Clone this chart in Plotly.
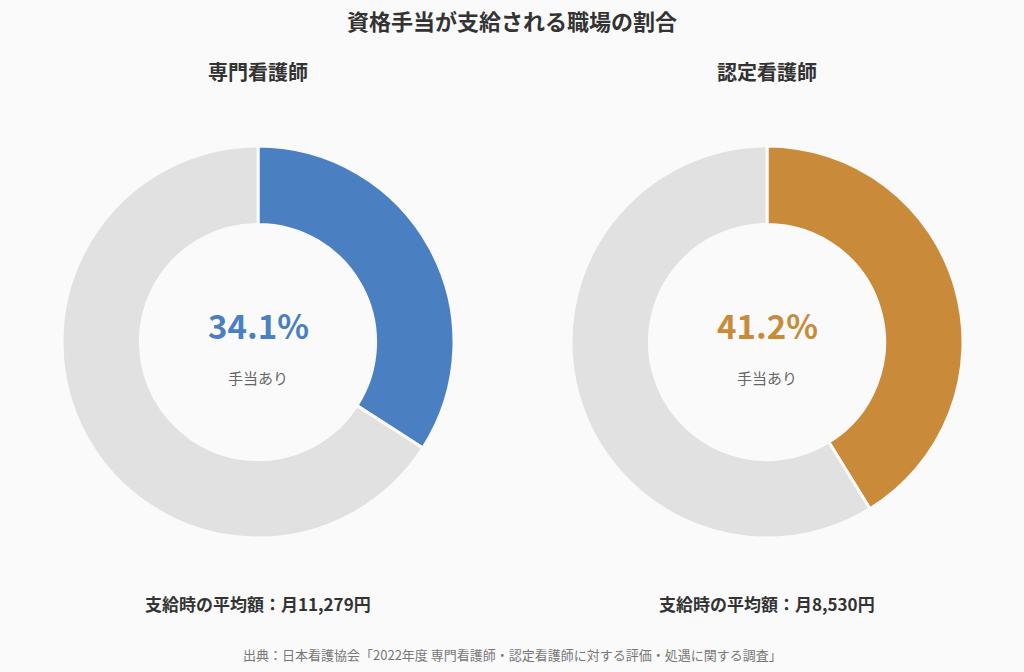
import plotly.graph_objects as go

groups = ["専門看護師", "認定看護師"]
labels = ["手当あり", "手当なし"]
with_allowance = [34.1, 41.2]
avg_amount = ["11,279", "8,530"]
colors = ["#4a7fc1", "#c98a3a"]
rest_color = "#e1e1e1"
title = "資格手当が支給される職場の割合"
source = "出典：日本看護協会「2022年度 専門看護師・認定看護師に対する評価・処遇に関する調査」"

W, H = 1024, 672
font = "Noto Sans CJK JP"
domains_x = [[62 / W, 454 / W], [571 / W, 963 / W]]
dom_y = [1 - 538 / H, 1 - 146 / H]
centers_x = [258 / W, 767 / W]

fig = go.Figure()
for i, g in enumerate(groups):
    v = with_allowance[i]
    fig.add_trace(go.Pie(
        labels=labels, values=[v, round(100 - v, 1)],
        hole=0.6, sort=False, direction="clockwise", rotation=0,
        marker=dict(colors=[colors[i], rest_color], line=dict(color="#fafafa", width=3)),
        textinfo="none", hoverinfo="label+percent", showlegend=False,
        domain=dict(x=domains_x[i], y=dom_y), name=g,
    ))


def note(text, x, ypx, size, color):
    return dict(text=text, x=x, y=1 - ypx / H, xref="paper", yref="paper",
                xanchor="center", yanchor="middle", showarrow=False,
                font=dict(family=font, size=size, color=color))


ann = [note(f"<b>{title}</b>", 0.5, 20, 22, "#333333")]
for i, g in enumerate(groups):
    cx = centers_x[i]
    ann.append(note(f"<b>{g}</b>", cx, 72, 20, "#333333"))
    ann.append(note(f"<b>{with_allowance[i]}%</b>", cx, 325, 33, colors[i]))
    ann.append(note(labels[0], cx, 377, 15, "#666666"))
    ann.append(note(f"<b>支給時の平均額：月{avg_amount[i]}円</b>", cx, 603, 17, "#333333"))
ann.append(note(source, 0.5, 654, 13, "#777777"))

fig.update_layout(
    width=W, height=H, margin=dict(l=0, r=0, t=0, b=0),
    paper_bgcolor="#fafafa", plot_bgcolor="#fafafa",
    annotations=ann, font=dict(family=font),
)
fig.write_html("out.html", config={"displayModeBar": False},
               post_script="document.body.style.margin='0';")
